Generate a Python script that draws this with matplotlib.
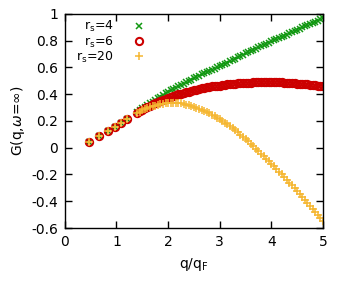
import numpy as np
import matplotlib
matplotlib.use("Agg")
import matplotlib.pyplot as plt

# low-q points (common to all three r_s)
q_low = [0.47, 0.67, 0.84, 0.97, 1.09, 1.20]
g_low = [0.045, 0.088, 0.122, 0.155, 0.185, 0.213]

# dense part, q/q_F from 1.40 to 5.00 in steps of 0.05
q_hi = [1.40, 1.45, 1.50, 1.55, 1.60, 1.65, 1.70, 1.75, 1.80, 1.85,
        1.90, 1.95, 2.00, 2.05, 2.10, 2.15, 2.20, 2.25, 2.30, 2.35,
        2.40, 2.45, 2.50, 2.55, 2.60, 2.65, 2.70, 2.75, 2.80, 2.85,
        2.90, 2.95, 3.00, 3.05, 3.10, 3.15, 3.20, 3.25, 3.30, 3.35,
        3.40, 3.45, 3.50, 3.55, 3.60, 3.65, 3.70, 3.75, 3.80, 3.85,
        3.90, 3.95, 4.00, 4.05, 4.10, 4.15, 4.20, 4.25, 4.30, 4.35,
        4.40, 4.45, 4.50, 4.55, 4.60, 4.65, 4.70, 4.75, 4.80, 4.85,
        4.90, 4.95, 5.00]

g_rs4 = [0.270, 0.283, 0.295, 0.308, 0.320, 0.333, 0.345, 0.358, 0.370, 0.383,
         0.395, 0.408, 0.420, 0.430, 0.440, 0.450, 0.460, 0.470, 0.480, 0.490,
         0.500, 0.510, 0.520, 0.530, 0.540, 0.548, 0.555, 0.565, 0.575, 0.583,
         0.590, 0.600, 0.610, 0.618, 0.625, 0.635, 0.645, 0.655, 0.665, 0.675,
         0.685, 0.695, 0.705, 0.713, 0.720, 0.730, 0.740, 0.750, 0.760, 0.768,
         0.775, 0.785, 0.795, 0.803, 0.810, 0.820, 0.830, 0.838, 0.845, 0.855,
         0.865, 0.873, 0.880, 0.890, 0.900, 0.908, 0.915, 0.925, 0.935, 0.943,
         0.950, 0.960, 0.970]

g_rs6 = [0.260, 0.273, 0.285, 0.295, 0.305, 0.315, 0.325, 0.335, 0.345, 0.353,
         0.360, 0.368, 0.375, 0.383, 0.390, 0.395, 0.400, 0.405, 0.410, 0.415,
         0.420, 0.425, 0.430, 0.435, 0.440, 0.444, 0.447, 0.451, 0.455, 0.458,
         0.460, 0.463, 0.465, 0.468, 0.470, 0.473, 0.475, 0.477, 0.479, 0.481,
         0.482, 0.484, 0.485, 0.486, 0.487, 0.488, 0.489, 0.490, 0.490, 0.490,
         0.490, 0.490, 0.490, 0.490, 0.489, 0.489, 0.488, 0.487, 0.486, 0.484,
         0.483, 0.482, 0.480, 0.479, 0.477, 0.475, 0.473, 0.472, 0.470, 0.468,
         0.465, 0.463, 0.460]

g_rs20 = [0.260, 0.270, 0.280, 0.288, 0.295, 0.303, 0.310, 0.315, 0.320, 0.325,
          0.330, 0.333, 0.335, 0.336, 0.337, 0.336, 0.335, 0.332, 0.328, 0.323,
          0.318, 0.312, 0.305, 0.298, 0.290, 0.282, 0.273, 0.265, 0.256, 0.246,
          0.235, 0.224, 0.213, 0.201, 0.188, 0.174, 0.160, 0.145, 0.130, 0.114,
          0.098, 0.082, 0.065, 0.048, 0.030, 0.011, -0.008, -0.027, -0.045, -0.064,
          -0.083, -0.101, -0.120, -0.139, -0.158, -0.178, -0.198, -0.219, -0.240, -0.261,
          -0.282, -0.303, -0.325, -0.347, -0.368, -0.391, -0.413, -0.436, -0.458, -0.481,
          -0.504, -0.527, -0.550]

labels = [r'r$_{\mathrm{s}}$=4', r'r$_{\mathrm{s}}$=6', r'r$_{\mathrm{s}}$=20']
colors = ['#129812', '#cc0000', '#f5b732']

fig = plt.figure(figsize=(3.45, 2.85), dpi=100)
ax = fig.add_axes([0.188, 0.2, 0.748, 0.751])

q_all = q_low + q_hi
ax.plot(q_all, g_low + g_rs4, 'x', color=colors[0], ms=4.5, mew=1.1, label=labels[0])
ax.plot(q_all, g_low + g_rs6, 'o', color=colors[1], mfc='none', ms=5.2, mew=1.5, label=labels[1])
ax.plot(q_all, g_low + g_rs20, '+', color=colors[2], ms=5.2, mew=1.1, label=labels[2])

ax.set_xlim(0, 5)
ax.set_ylim(-0.6, 1)
ax.set_xticks([0, 1, 2, 3, 4, 5])
ax.set_yticks([-0.6, -0.4, -0.2, 0, 0.2, 0.4, 0.6, 0.8, 1])
ax.set_yticklabels(['-0.6', '-0.4', '-0.2', '0', '0.2', '0.4', '0.6', '0.8', '1'])
ax.tick_params(direction='in', top=True, right=True, length=5, width=1,
               labelsize=10, pad=5)
for s in ax.spines.values():
    s.set_linewidth(1.0)

ax.set_xlabel(r'q/q$_{\mathrm{F}}$', fontsize=10, labelpad=5)
ax.set_ylabel(r'G(q,$\omega$=$\infty$)', fontsize=10, labelpad=3)

leg = ax.legend(loc='upper left', frameon=False, markerfirst=False, fontsize=9,
                handletextpad=1.0, labelspacing=0.0, borderaxespad=0.2,
                bbox_to_anchor=(0.015, 1.01))
for t in leg.get_texts():
    t.set_ha('right')

fig.savefig('out.png', dpi=100)
